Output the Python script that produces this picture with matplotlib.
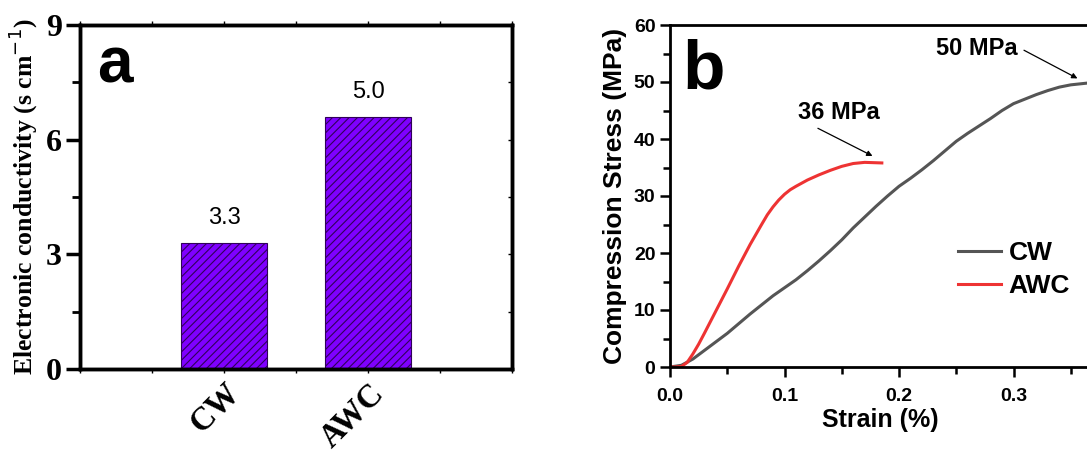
import numpy as np
import matplotlib.pyplot as plt
from matplotlib.ticker import MultipleLocator

# datos panel a
muestras = ['CW', 'AWC']
conduct = [3.3, 6.6]
etiquetas = ['3.3', '5.0']

# datos panel b
cw_x = [0.0, 0.01, 0.02, 0.03, 0.04, 0.05, 0.06, 0.07, 0.08, 0.09, 0.1, 0.11, 0.12, 0.13,
        0.14, 0.15, 0.16, 0.17, 0.18, 0.19, 0.2, 0.21, 0.22, 0.23, 0.24, 0.25, 0.26, 0.27,
        0.28, 0.29, 0.3, 0.31, 0.32, 0.33, 0.34, 0.35, 0.364]
cw_y = [0.0, 0.3, 1.4, 2.9, 4.4, 5.9, 7.6, 9.3, 10.9, 12.5, 13.9, 15.3, 16.9, 18.6,
        20.4, 22.3, 24.4, 26.3, 28.2, 30.0, 31.7, 33.1, 34.6, 36.2, 37.9, 39.6, 41.0, 42.3,
        43.6, 45.0, 46.2, 47.0, 47.8, 48.5, 49.1, 49.5, 49.8]
awc_x = [0.0, 0.005, 0.01, 0.015, 0.02, 0.025, 0.03, 0.04, 0.05, 0.06, 0.07, 0.08, 0.085,
         0.09, 0.095, 0.1, 0.105, 0.11, 0.12, 0.13, 0.14, 0.15, 0.16, 0.17, 0.185]
awc_y = [0.0, 0.0, 0.1, 0.8, 2.3, 4.0, 5.9, 9.8, 13.7, 17.7, 21.5, 25.0, 26.7,
         28.1, 29.3, 30.3, 31.1, 31.7, 32.8, 33.7, 34.5, 35.2, 35.7, 35.9, 35.8]

plt.rcParams['hatch.linewidth'] = 0.8
fig = plt.figure(figsize=(10.87, 4.55), dpi=100)

#%% panel a
ax1 = fig.add_axes([80/1087, 1-369/455, 432/1087, 344/455])
pos = np.arange(1, len(muestras)+1)
ax1.bar(pos, conduct, width=0.6, color='#7f00ff', edgecolor='#30005a',
        hatch='////', linewidth=0.8)
for p, v, t in zip(pos, conduct, etiquetas):
    ax1.text(p, v + 0.35, t, ha='center', va='bottom', fontsize=17,
             family='Liberation Sans')
ax1.set_xlim(0, 3)
ax1.set_ylim(0, 9)
ax1.yaxis.set_major_locator(MultipleLocator(3))
ax1.yaxis.set_minor_locator(MultipleLocator(1.5))
ax1.set_xticks(pos)
ax1.set_xticklabels(muestras, rotation=45, ha='right', rotation_mode='anchor',
                    fontsize=23.5, fontweight='bold', family='Liberation Serif')
ax1.xaxis.set_minor_locator(MultipleLocator(0.5))
for lab in ax1.get_yticklabels():
    lab.set_fontsize(23)
    lab.set_fontweight('bold')
    lab.set_family('Liberation Serif')
ax1.tick_params(axis='y', which='major', direction='out', length=10, width=2.5,
                pad=3)
ax1.tick_params(axis='y', which='minor', direction='out', length=6, width=2)
ax1.tick_params(axis='x', which='both', direction='out', length=3, width=1,
                top=True, pad=3)
# ticks chicos del lado derecho
ax1r = ax1.twinx()
ax1r.set_ylim(0, 9)
ax1r.yaxis.set_major_locator(MultipleLocator(3))
ax1r.yaxis.set_minor_locator(MultipleLocator(1.5))
ax1r.tick_params(which='both', direction='in', length=3, width=1,
                 labelright=False)
ax1r.set_yticklabels([])
ax1.set_ylabel('Electronic conductivity (s cm$^{-1}$)', fontsize=18.5,
               fontweight='bold', family='Liberation Serif', labelpad=4)
for s in list(ax1.spines.values()) + list(ax1r.spines.values()):
    s.set_linewidth(2.5)
ax1.text(0.04, 0.97, 'a', transform=ax1.transAxes, fontsize=46,
         fontweight='bold', family='Liberation Sans', va='top')

#%% panel b
ax2 = fig.add_axes([670/1087, 1-367/455, 420/1087, 342/455])
ax2.plot(cw_x, cw_y, color='#555555', lw=2.2, label='CW')
ax2.plot(awc_x, awc_y, color='#ee3333', lw=2.2, label='AWC')
ax2.set_xlim(0, 0.3668)
ax2.set_ylim(0, 60)
ax2.xaxis.set_major_locator(MultipleLocator(0.1))
ax2.xaxis.set_minor_locator(MultipleLocator(0.05))
ax2.yaxis.set_major_locator(MultipleLocator(10))
ax2.yaxis.set_minor_locator(MultipleLocator(5))
ax2.tick_params(which='major', direction='out', length=7, width=1.8,
                labelsize=14)
ax2.tick_params(axis='x', which='major', pad=8)
ax2.tick_params(which='minor', direction='out', length=5, width=1.8)
for lab in ax2.get_xticklabels() + ax2.get_yticklabels():
    lab.set_fontweight('bold')
    lab.set_family('Liberation Sans')
ax2.set_xlabel('Strain (%)', fontsize=18, fontweight='bold',
               family='Liberation Sans', labelpad=2)
ax2.set_ylabel('Compression Stress (MPa)', fontsize=19, fontweight='bold',
               family='Liberation Sans', labelpad=5)
for s in ax2.spines.values():
    s.set_linewidth(2)
ax2.spines['right'].set_visible(False)
ax2.text(0.03, 0.96, 'b', transform=ax2.transAxes, fontsize=50,
         fontweight='bold', family='Liberation Sans', va='top')

ax2.annotate('', xy=(0.179, 36.8), xytext=(0.127, 42.1),
             arrowprops=dict(arrowstyle='-|>', color='black', lw=0.9,
                             mutation_scale=8))
ax2.text(0.112, 42.6, '36 MPa', fontsize=17, fontweight='bold',
         family='Liberation Sans', va='bottom')
ax2.annotate('', xy=(0.358, 50.4), xytext=(0.307, 55.8),
             arrowprops=dict(arrowstyle='-|>', color='black', lw=0.9,
                             mutation_scale=8))
ax2.text(0.304, 55.8, '50 MPa', fontsize=17, fontweight='bold',
         family='Liberation Sans', va='center', ha='right')

ax2.legend(loc='center left', bbox_to_anchor=(0.63, 0.285), frameon=False,
           prop={'family': 'Liberation Sans', 'weight': 'bold', 'size': 19},
           handlelength=1.6, handletextpad=0.3, labelspacing=0.35)

fig.savefig('out.png', dpi=100)
